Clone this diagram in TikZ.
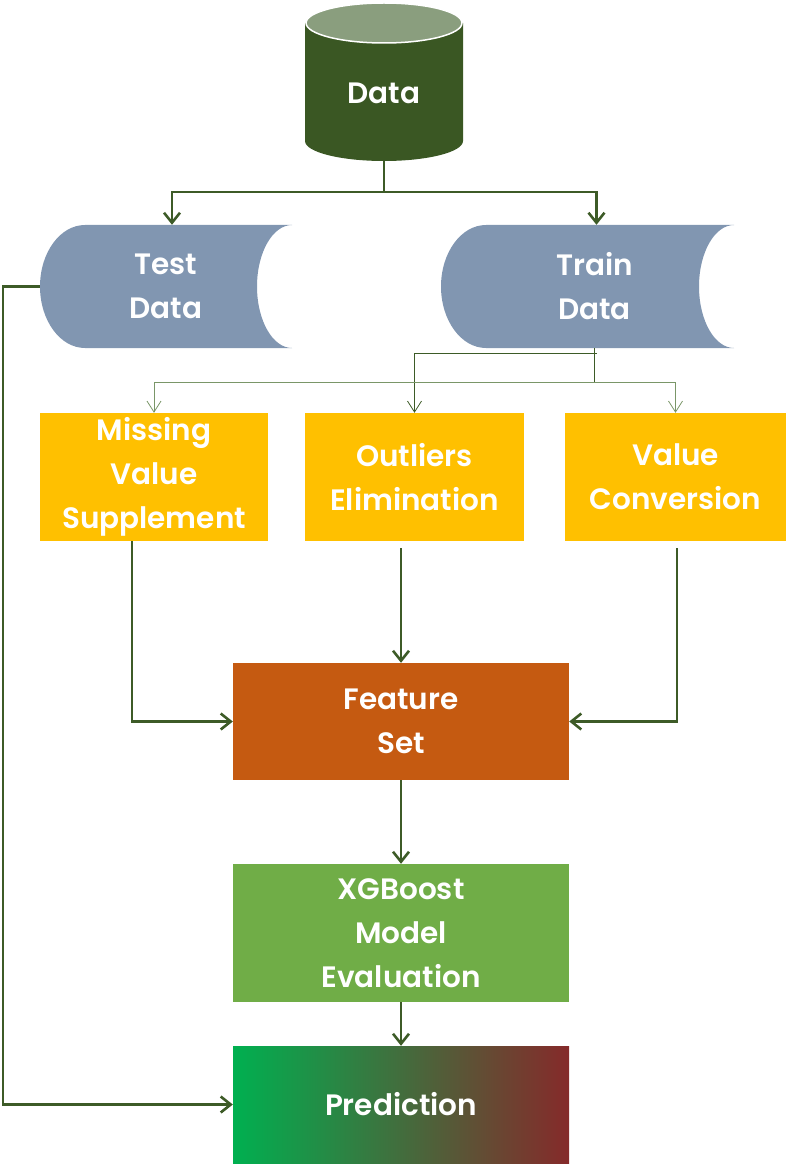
\documentclass[tikz,border=0pt]{standalone}
\usepackage{fontspec}
\setmainfont{Poppins}[BoldFont={Poppins SemiBold}]
\usetikzlibrary{arrows.meta}
\definecolor{linec}{RGB}{61,91,39}
\definecolor{linelt}{RGB}{122,150,104}
\definecolor{cylc}{RGB}{58,87,35}
\definecolor{cyltop}{RGB}{138,158,126}
\definecolor{storedc}{RGB}{129,150,177}
\definecolor{yellowc}{RGB}{255,192,0}
\definecolor{orangec}{RGB}{197,90,17}
\definecolor{greenc}{RGB}{112,173,71}
\definecolor{predl}{RGB}{0,176,80}
\definecolor{predr}{RGB}{133,42,42}

\begin{document}
\begin{tikzpicture}[x=1pt,y=1pt,
    txt/.style={text=white, align=center, inner sep=0pt,
        font=\fontsize{29.5}{44}\selectfont\bfseries},
    box/.style={txt, fill=#1},
    cyl/.style={txt, path picture={
        \fill[cylc] ([yshift=-22pt]path picture bounding box.north west)
            -- ([yshift=20pt]path picture bounding box.south west)
            arc[start angle=180, end angle=360, x radius=79pt, y radius=20pt]
            -- ([yshift=-22pt]path picture bounding box.north east) -- cycle;
        \filldraw[fill=cyltop, draw=white, line width=1.5pt]
            ([yshift=-22pt]path picture bounding box.north) ellipse[x radius=78pt, y radius=20pt];
    }},
    stored/.style={txt, path picture={
        \fill[storedc] ([xshift=45pt]path picture bounding box.north west)
            -- (path picture bounding box.north east)
            arc[start angle=90, end angle=270, x radius=35pt, y radius=61.5pt]
            -- ([xshift=45pt]path picture bounding box.south west)
            arc[start angle=270, end angle=90, x radius=45pt, y radius=61.5pt] -- cycle;
    }},
    flow/.style={draw=linec, line width=2.6pt,
        -{Straight Barb[length=10pt, width=16pt]}},
    thinflow/.style={draw=#1, line width=0.9pt,
        -{Straight Barb[length=11pt, width=14pt, line width=0.8pt]}},
    thinflow/.default=linelt
]
\useasboundingbox (0,0) rectangle (788,-1166);

\node[cyl, minimum width=158pt, minimum height=160pt] (data) at (384,-81)
    {\raisebox{-12pt}[\height][\depth]{Data}};
\node[stored, minimum width=252pt, minimum height=123pt] (test) at (166,-286.5) {Test\\Data};
\node[stored, minimum width=293pt, minimum height=123pt] (train) at (587.5,-286.5)
    {\hspace*{14pt}Train\\\hspace*{14pt}Data};

\node[box=yellowc, minimum width=228pt, minimum height=128pt] (miss) at (154,-477) {Missing\\Value\\Supplement};
\node[box=yellowc, minimum width=219pt, minimum height=128pt] (outl) at (414.5,-477) {Outliers\\Elimination};
\node[box=yellowc, minimum width=221pt, minimum height=128pt] (conv) at (675.5,-477) {Value\\Conversion};

\node[box=orangec, minimum width=336pt, minimum height=117pt] (feat) at (401,-721.5) {Feature\\Set};
\node[box=greenc, minimum width=336pt, minimum height=138pt] (xgb) at (401,-933) {XGBoost\\Model\\Evaluation};
\node[txt, left color=predl, right color=predr, minimum width=336pt, minimum height=117pt] (pred) at (401,-1104.5) {Prediction};

\coordinate (split) at (384,-192);
\coordinate (t1) at (594,-353);
\coordinate (t2) at (594,-382);

\draw[flow] (data.south) -- (split) -| ([xshift=6pt]test.north);
\draw[flow] (split) -| ([xshift=9pt]train.north);

\draw[linec, line width=0.9pt] ([xshift=6.5pt]train.south) -- (t2);
\draw[linec, line width=0.9pt] ([xshift=3pt]t1) -- (t1);
\draw[thinflow=linec] (t1) -| (outl.north);
\draw[thinflow] (t2) -| (miss.north);
\draw[thinflow] (t2) -| (conv.north);

\draw[flow] ([xshift=-22pt]miss.south) |- (feat.west);
\draw[flow] (feat.north |- outl.south) ++(0,-7) -- (feat.north);
\draw[flow] (conv.south) ++(1.5,-7) |- (feat.east);
\draw[flow] (feat.south) -- (xgb.north);
\draw[flow] (xgb.south) -- (pred.north);
\draw[flow] (test.west) -- ++(-37,0) |- (pred.west);
\end{tikzpicture}
\end{document}
